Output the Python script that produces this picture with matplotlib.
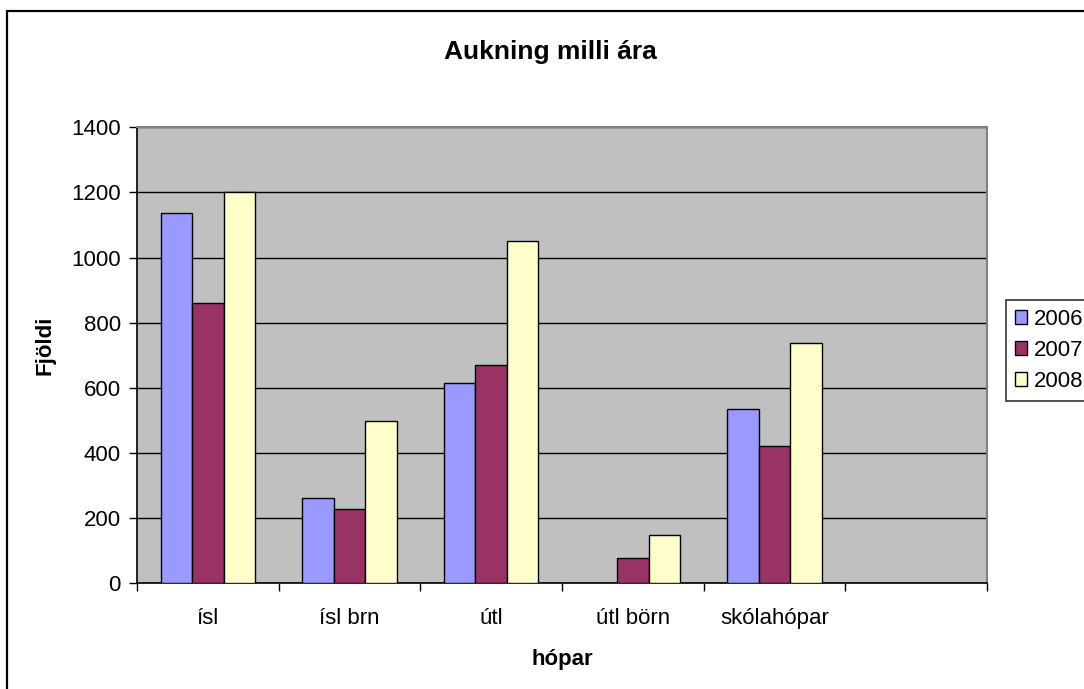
import matplotlib
matplotlib.use("Agg")
import matplotlib.pyplot as plt
import numpy as np
from matplotlib.patches import Rectangle

plt.rcParams['font.family'] = ['Liberation Sans', 'DejaVu Sans']

categories = ["ísl", "ísl brn", "útl", "útl börn", "skólahópar", ""]
series_names = ["2006", "2007", "2008"]
v2006 = [1136, 261, 615, 0, 535, 0]
v2007 = [861, 228, 669, 79, 423, 0]
v2008 = [1200, 498, 1051, 149, 739, 0]
colors = ["#9999FF", "#993366", "#FFFFCC"]
yticks = [0, 200, 400, 600, 800, 1000, 1200, 1400]

W, H = 1084, 689
fig = plt.figure(figsize=(W / 100, H / 100), dpi=100)
fig.patch.set_facecolor("white")

left, right, top, bottom = 137.3, 986.7, 127.3, 583.3
ax = fig.add_axes([left / W, (H - bottom) / H, (right - left) / W, (bottom - top) / H])
ax.set_facecolor("#C0C0C0")

n = len(categories)
x = np.arange(n)
bw = 1 / 4.5
for i, (vals, c, name) in enumerate(zip([v2006, v2007, v2008], colors, series_names)):
    ax.bar(x + (i - 1) * bw, vals, width=bw, color=c, edgecolor="black",
           linewidth=1.0, label=name, zorder=3)

fs = 16
ax.set_xlim(-0.5, n - 0.5)
ax.set_ylim(0, 1400)
ax.set_yticks(yticks)
ax.set_yticklabels([str(t) for t in yticks], fontsize=fs)
ax.yaxis.grid(True, color="black", linewidth=1.0, zorder=1)
ax.set_axisbelow(True)

ax.set_xticks(x)
ax.set_xticklabels(categories, fontsize=fs)
ax.tick_params(axis="x", which="major", length=0, pad=18)
ax.set_xticks(np.arange(-0.5, n, 1), minor=True)
ax.tick_params(axis="x", which="minor", length=6, width=1, direction="out", color="black")
ax.tick_params(axis="y", length=6, width=1, direction="out", pad=6)

for s in ["left", "bottom"]:
    ax.spines[s].set_color("black")
    ax.spines[s].set_linewidth(1.2)
for s in ["top", "right"]:
    ax.spines[s].set_color("#808080")
    ax.spines[s].set_linewidth(1.5)

fig.text(45 / W, 1 - 345 / H, "Fjöldi", rotation=90, ha="center", va="center",
         fontsize=fs, fontweight="bold")
fig.text(562 / W, 1 - 660 / H, "hópar", ha="center", va="center",
         fontsize=fs, fontweight="bold")

fig.text(550 / W, 1 - 52 / H, "Aukning milli ára", ha="center", va="center",
         fontsize=19, fontweight="bold")

leg = ax.legend(loc="upper left", bbox_to_anchor=(1006 / W, 1 - 300 / H),
                bbox_transform=fig.transFigure, fontsize=fs, frameon=True,
                fancybox=False, edgecolor="black", handlelength=0.55,
                handleheight=0.55, handletextpad=0.3, borderpad=0.4,
                labelspacing=0.45, borderaxespad=0)
leg.get_frame().set_linewidth(1.2)

fig.patches.append(Rectangle((7 / W, -0.05), 1.2, 1 - 11 / H + 0.05, transform=fig.transFigure,
                             fill=False, edgecolor="black", linewidth=1.6))

fig.savefig("out.png", dpi=100)
